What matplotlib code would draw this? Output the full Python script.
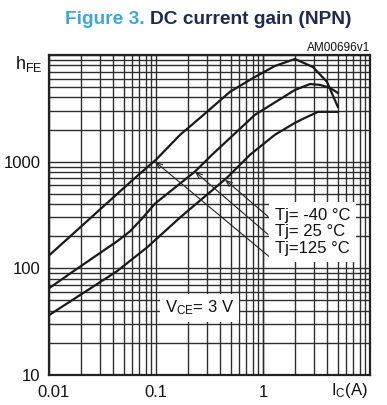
import matplotlib
matplotlib.use("Agg")
import matplotlib.pyplot as plt
import matplotlib.transforms as mtransforms
from matplotlib.ticker import LogLocator, NullFormatter, FixedLocator

plt.rcParams["font.family"] = ["Liberation Sans", "DejaVu Sans"]
plt.rcParams["mathtext.default"] = "regular"

# collector current (A) vs DC current gain
ic_125 = [0.01, 0.0147, 0.061, 0.1, 0.168, 0.258, 0.49, 0.84, 1.29, 1.99, 2.93, 3.96, 5.0]
hfe_125 = [132, 187, 679, 1044, 1787, 2577, 4510, 6230, 7890, 9180, 7720, 5600, 3270]

ic_25 = [0.01, 0.0164, 0.0432, 0.0571, 0.074, 0.098, 0.231, 0.334, 0.84, 1.99, 2.75, 3.41, 4.23, 5.0]
hfe_25 = [65, 92, 179, 222, 293, 405, 807, 1162, 2750, 4710, 5350, 5250, 4920, 4415]

ic_m40 = [0.01, 0.0432, 0.0824, 0.168, 0.461, 0.757, 1.29, 1.99, 2.47, 3.27, 5.0]
hfe_m40 = [36.4, 94, 157, 300, 708, 1162, 1787, 2314, 2577, 2933, 2933]

x_ticks = [0.01, 0.1, 1]
x_ticklabels = ["0.01", "0.1", "1"]
y_ticks = [10, 100, 1000]
y_ticklabels = ["10", "100", "1000"]

labels = ["Tj= -40 °C", "Tj= 25 °C", "Tj=125 °C"]
# arrow (tip on curve, tail at label) for each label, top label first
arrow_tips = [(0.441, 679), (0.231, 807), (0.098, 1000)]
arrow_tails = [(1.113, 306), (1.113, 208), (1.16, 127)]

fig = plt.figure(figsize=(3.87, 4.05), dpi=100)
ax = fig.add_axes([0.1266, 0.0741, 0.8295, 0.790])

ax.set_xscale("log")
ax.set_yscale("log")
ax.set_xlim(0.01, 10)
ax.set_ylim(10, 10000)

ax.xaxis.set_major_locator(FixedLocator(x_ticks))
ax.yaxis.set_major_locator(FixedLocator(y_ticks))
ax.set_xticklabels(x_ticklabels)
ax.set_yticklabels(y_ticklabels)
ax.xaxis.set_minor_locator(LogLocator(base=10, subs=range(2, 10)))
ax.yaxis.set_minor_locator(LogLocator(base=10, subs=range(2, 10)))
ax.xaxis.set_minor_formatter(NullFormatter())
ax.yaxis.set_minor_formatter(NullFormatter())
ax.tick_params(which="both", length=0, labelsize=12, colors="#111111")
ax.tick_params(axis="x", pad=7)
ax.tick_params(axis="y", pad=6)

# the 0.01 label sits a little right of its gridline
first = ax.get_xticklabels()[0]
first.set_transform(first.get_transform() +
                    mtransforms.ScaledTranslation(5 / 100, 0, fig.dpi_scale_trans))

ax.grid(which="both", color="#2e2e2e", linewidth=1.0)
ax.axhline(10000, color="#2e2e2e", linewidth=1.0)
for v in [1, 10]:
    ax.axvline(v, color="#2e2e2e", linewidth=1.0)
ax.set_axisbelow(True)
for s in ax.spines.values():
    s.set_linewidth(1.6)
    s.set_color("#222222")

for xs, ys in [(ic_125, hfe_125), (ic_25, hfe_25), (ic_m40, hfe_m40)]:
    ax.plot(xs, ys, color="#1a1a1a", linewidth=1.6, solid_joinstyle="round", zorder=3)

for tip, tail in zip(arrow_tips, arrow_tails):
    ax.annotate("", xy=tip, xytext=tail,
                arrowprops=dict(arrowstyle="->,head_length=0.45,head_width=0.18",
                                color="#222222", lw=0.8, shrinkA=0, shrinkB=0),
                zorder=4)

ax.text(0.704, 0.447, "\n".join(labels), transform=ax.transAxes, fontsize=12,
        ha="left", va="center", linespacing=1.12, color="#111111", zorder=5,
        bbox=dict(boxstyle="square,pad=0.35", facecolor="white", edgecolor="none"))

ax.text(0.361, 0.209, r"$V_{CE}$= 3 V", transform=ax.transAxes, fontsize=12,
        ha="left", va="center", color="#111111", zorder=5,
        bbox=dict(boxstyle="square,pad=0.3", facecolor="white", edgecolor="none"))

# axis captions in place of the 10000 / 10 tick labels
fig.text(43 / 387, 1 - 64 / 405, r"$h_{FE}$", fontsize=13, ha="right", va="center",
         color="#111111")
fig.text(368 / 387, 1 - 390 / 405, r"$I_C$(A)", fontsize=12, ha="right", va="center",
         color="#111111")
fig.text(370 / 387, 1 - 48 / 405, "AM00696v1", fontsize=8.5, ha="right", va="center",
         color="#111111")

t1 = fig.text(65 / 387, 1 - 24 / 405, "Figure 3. ", fontsize=13.8, fontweight="bold",
              color="#3fa6da", ha="left", va="baseline")
ax.annotate("DC current gain (NPN)", xy=(1, 0), xycoords=t1, fontsize=13.8,
            fontweight="bold", color="#1c2b4f", ha="left", va="bottom",
            annotation_clip=False)

fig.savefig("out.png", dpi=100)
